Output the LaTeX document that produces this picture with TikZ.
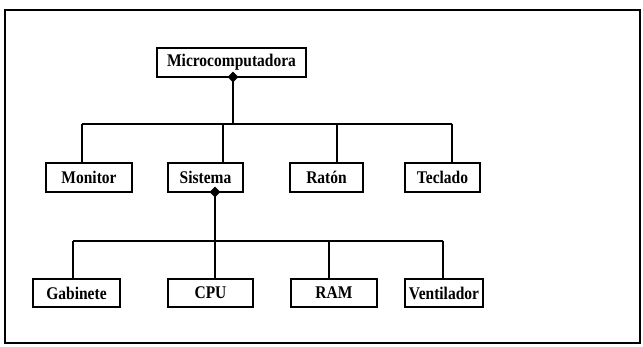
\documentclass[tikz,border=0pt]{standalone}
\usepackage{fontspec}
\setmainfont{Liberation Serif}
\usetikzlibrary{shapes.geometric}
\newcommand\talltext[1]{\raisebox{-1pt}{\scalebox{1}[1.15]{#1}}}
\begin{document}
\begin{tikzpicture}[x=1pt,y=-1pt,
  box/.style={draw,line width=1.8pt,rectangle,inner sep=0pt,minimum height=29pt,
    font=\fontsize{15.5}{18}\selectfont\bfseries},
  link/.style={line width=1.5pt},
  knob/.style={diamond,fill=black,inner sep=0pt,minimum width=11pt,minimum height=11pt}]
\useasboundingbox (0,0) rectangle (643,347);
\draw[line width=1.2pt] (5,10) rectangle (640,343);
% nodes
\node[box,minimum width=149pt] (mic) at (231.5,62.5) {\talltext{Microcomputadora}};
\node[box,minimum width=86pt] (mon) at (89,177.5) {\talltext{Monitor}};
\node[box,minimum width=75pt] (sis) at (205.5,177.5) {\talltext{Sistema}};
\node[box,minimum width=73pt] (rat) at (326.5,177.5) {\talltext{Ratón}};
\node[box,minimum width=75pt] (tec) at (442.5,177.5) {\talltext{Teclado}};
\node[box,minimum width=87pt,minimum height=28pt] (gab) at (76.5,293) {\talltext{Gabinete}};
\node[box,minimum width=85pt,minimum height=28pt] (cpu) at (210.5,293) {\talltext{CPU}};
\node[box,minimum width=86pt,minimum height=28pt] (ram) at (334,293) {\talltext{RAM}};
\node[box,minimum width=78pt,minimum height=28pt] (ven) at (444,293) {\talltext{Ventilador}};
% level 1 connectors
\coordinate (t1) at (233,77);
\coordinate (j1) at (233,124);
\coordinate (a1) at (82,124);
\coordinate (a2) at (223,124);
\coordinate (a3) at (337,124);
\coordinate (a4) at (452,124);
\draw[link] (t1) -- (j1);
\draw[link] (a1) -- (a4);
\draw[link] (a1) -- (a1 |- mon.north);
\draw[link] (a2) -- (a2 |- sis.north);
\draw[link] (a3) -- (a3 |- rat.north);
\draw[link] (a4) -- (a4 |- tec.north);
\node[knob] (k1) at (t1) {};
% level 2 connectors
\coordinate (t2) at (215,192);
\coordinate (j2) at (215,241);
\coordinate (b1) at (73,241);
\coordinate (b3) at (329,241);
\coordinate (b4) at (443,241);
\draw[link] (t2) -- (t2 |- cpu.north);
\draw[link] (b1) -- (b4);
\draw[link] (b1) -- (b1 |- gab.north);
\draw[link] (b3) -- (b3 |- ram.north);
\draw[link] (b4) -- (b4 |- ven.north);
\node[knob] (k2) at (t2) {};
\end{tikzpicture}
\end{document}
